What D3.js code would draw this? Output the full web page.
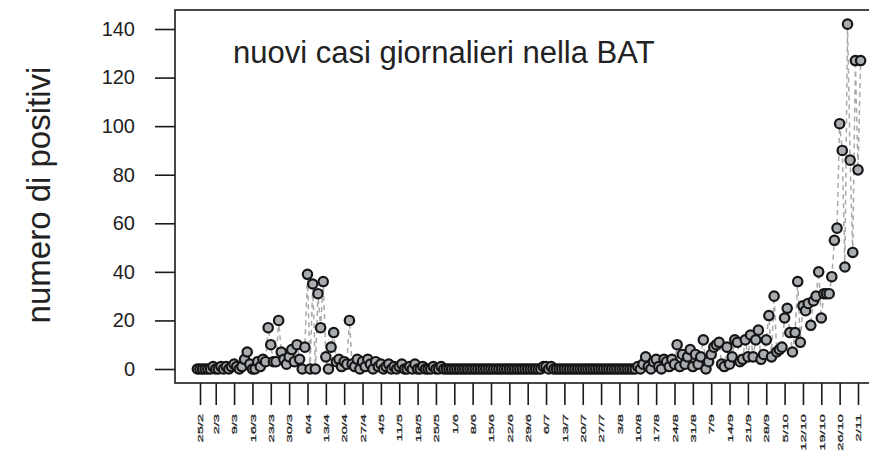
<!DOCTYPE html>
<html>
<head>
<meta charset="utf-8">
<script src="https://cdn.jsdelivr.net/npm/d3@7"></script>
<style>
  body { margin: 0; background: #fff; }
  svg { display: block; font-family: "Liberation Sans", Arial, sans-serif; }
</style>
</head>
<body>
<div id="chart"></div>
<script>
// daily new cases, first value is 24/2/2020
var startDay = "2020-02-24";
var casi = [
    0,0,0,0,0,0,1,0,0,1,0,1,0,1,2,1,0,1,4,7,2,0,
    0,3,1,4,3,17,10,3,3,20,7,4,2,5,8,3,10,4,0,9,39,0,35,0,31,17,36,
    5,0,9,15,3,4,1,3,2,20, 2,1,4,0,3,1,4,2,0,3, 1,2,0,1,2,0,1,0,1,2,
    0,0,1,0,2,0,0,1,0,0, 0,1,0,0,1,0,
    0,0,0,0,0,0,0,0,0,0, 0,0,0,0,0,0,0,0,0,0, 0,0,0,0,0,0,0,0,0,0, 0,0,0,0,
    0,0,0,1,1,0,1,0,
    0,0,0,0,0,0,0,0,0,0, 0,0,0,0,0,0,0,0,0,0, 0,0,0,0,0,0,0,0,0,
    0,0,1,0,2,5,1,0,3,4, 1,0,4,3,1,4,2,10,1,6, 2,5,8,1,6,2,5,12,0,3,
    6,9,10,11,2,1,9,2,5,12, 11,3,4,12,5,14,5,12,16,4, 6,12,22,5,30,7,8,9,21,25,
    15,7,15,36,11,26,24,27,18,28, 30,40,21,31,31,31,38,53,58,101,
    90,42,142,86,48,127,82,127
];

var xLabels = ["25/2","2/3","9/3","16/3","23/3","30/3","6/4","13/4","20/4","27/4",
    "4/5","11/5","18/5","25/5","1/6","8/6","15/6","22/6","29/6","6/7","13/7",
    "20/7","27/7","3/8","10/8","17/8","24/8","31/8","7/9","14/9","21/9","28/9",
    "5/10","12/10","19/10","26/10","2/11"];

var yTicks = [0, 20, 40, 60, 80, 100, 120, 140];

var width = 869;
var height = 451;

var start = d3.utcParse("%Y-%m-%d")(startDay);
var data = casi.map(function(v, i){
    return {"date": d3.utcDay.offset(start, i), "value": v};
});

function labelDate(s){
    var p = s.split("/");
    return new Date(Date.UTC(2020, +p[1] - 1, +p[0]));
}
var tickDates = xLabels.map(labelDate);

var x = d3.scaleUtc()
    .domain([tickDates[0], tickDates[tickDates.length - 1]])
    .range([200, 858]);

var y = d3.scaleLinear()
    .domain([0, 140])
    .range([369, 29]);

var svg = d3.select("#chart").append("svg")
    .attr("width", width)
    .attr("height", height);

// plot box
svg.append("rect")
    .attr("x", 175)
    .attr("y", 10)
    .attr("width", 696)
    .attr("height", 373)
    .attr("fill", "none")
    .attr("stroke", "#1a1a1a")
    .attr("stroke-width", 1.6);

// y axis
var yAxis = svg.append("g")
    .attr("transform", "translate(175,0)")
    .call(d3.axisLeft(y).tickValues(yTicks).tickSize(20).tickPadding(20));
yAxis.select(".domain").remove();
yAxis.selectAll("line").attr("stroke", "#1a1a1a").attr("stroke-width", 1.6);
yAxis.selectAll("text")
    .attr("font-size", 20)
    .attr("fill", "#222")
    .attr("font-family", "Liberation Sans, Arial, sans-serif");

// x axis, labels stretched along their length like the original
var xAxis = svg.append("g")
    .attr("transform", "translate(0,383)")
    .call(d3.axisBottom(x).tickValues(tickDates).tickSize(22)
        .tickFormat(function(d, i){ return xLabels[i]; }));
xAxis.select(".domain").remove();
xAxis.selectAll("line").attr("stroke", "#1a1a1a").attr("stroke-width", 1.6);
xAxis.selectAll("text")
    .attr("x", 0)
    .attr("y", 0)
    .attr("dy", "0.35em")
    .attr("text-anchor", "end")
    .attr("font-size", 7.8)
    .attr("fill", "#1e1e1e")
    .attr("stroke", "#1e1e1e")
    .attr("stroke-width", 0.25)
    .attr("font-family", "Liberation Sans, Arial, sans-serif")
    .attr("transform", "translate(0,31) rotate(-90) scale(1.88,1)");

// dashed connecting line
var line = d3.line()
    .x(function(d){ return x(d.date); })
    .y(function(d){ return y(d.value); });

svg.append("path")
    .datum(data)
    .attr("d", line)
    .attr("fill", "none")
    .attr("stroke", "#aaaaaa")
    .attr("stroke-width", 1.5)
    .attr("stroke-dasharray", "5,4");

svg.selectAll("circle")
    .data(data)
    .enter()
    .append("circle")
    .attr("cx", function(d){ return x(d.date); })
    .attr("cy", function(d){ return y(d.value); })
    .attr("r", 4.7)
    .attr("fill", "#a9adb2")
    .attr("stroke", "#151515")
    .attr("stroke-width", 2.2);

svg.append("text")
    .attr("x", 233)
    .attr("y", 63)
    .attr("font-size", 31)
    .attr("fill", "#222")
    .text("nuovi casi giornalieri nella BAT");

svg.append("text")
    .attr("transform", "translate(50,195) rotate(-90)")
    .attr("text-anchor", "middle")
    .attr("font-size", 33)
    .attr("fill", "#222")
    .text("numero di positivi");
</script>
</body>
</html>
